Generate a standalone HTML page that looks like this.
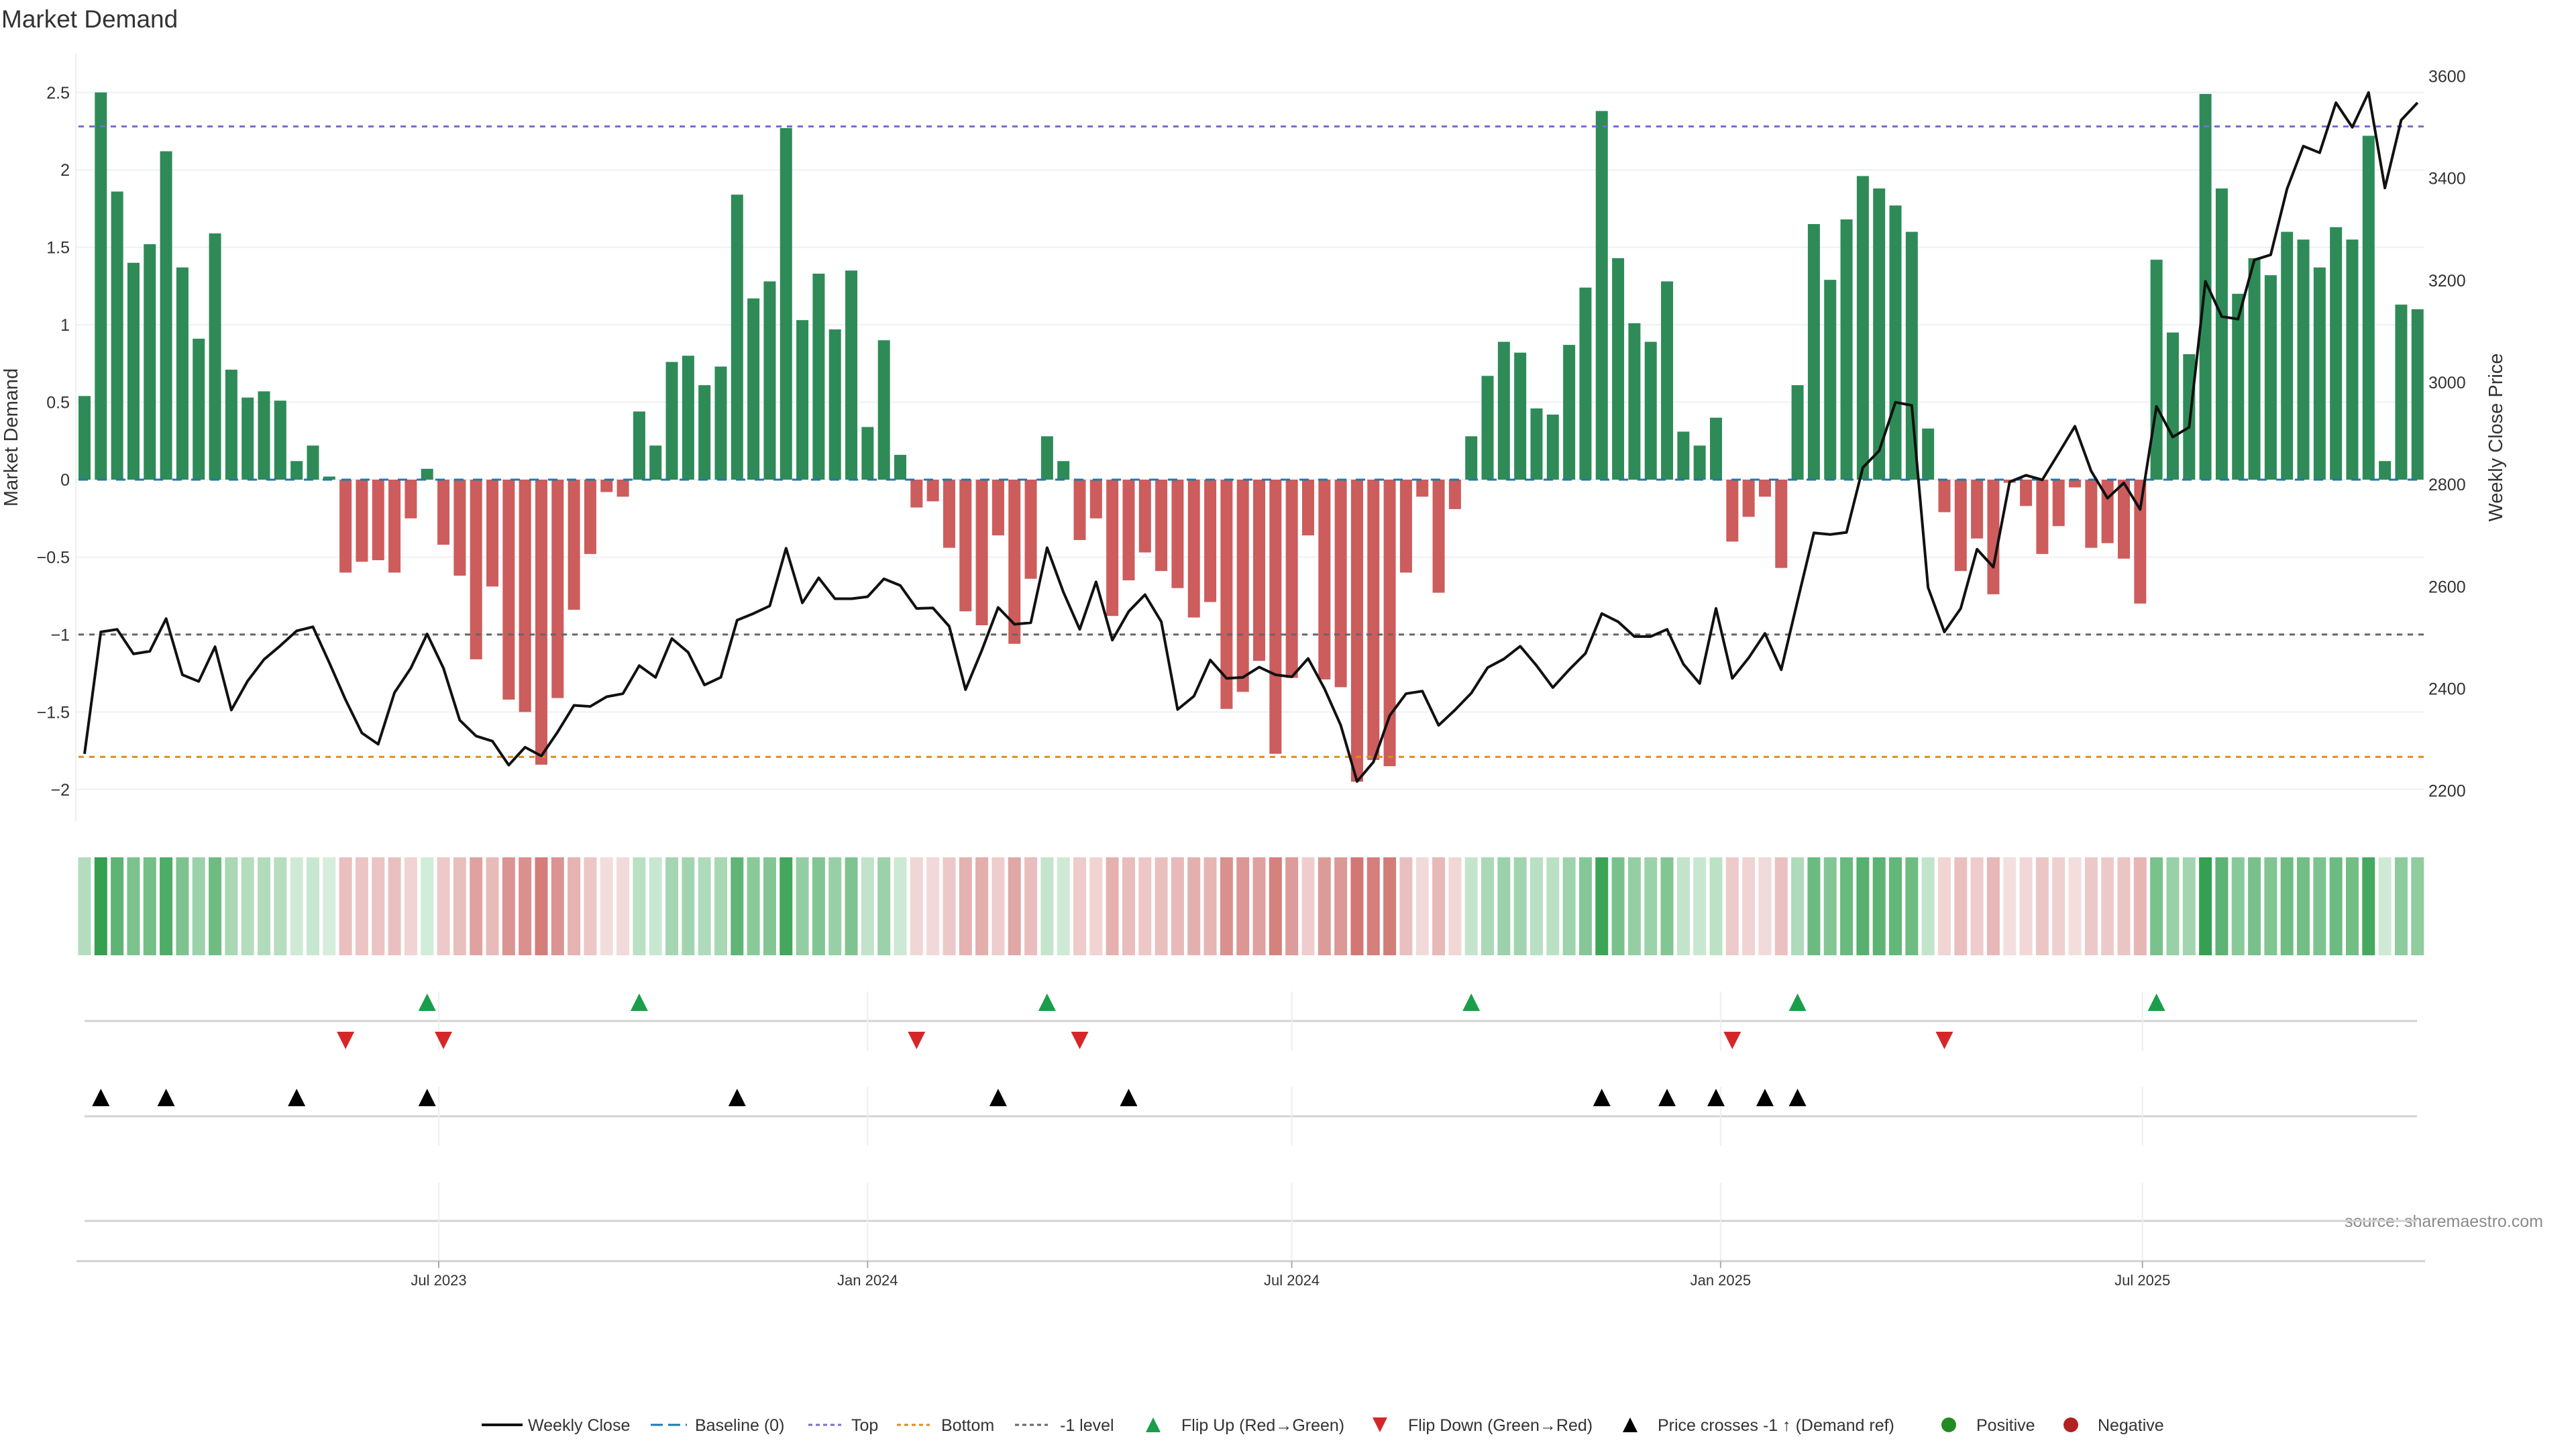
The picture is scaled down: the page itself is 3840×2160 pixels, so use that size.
<!DOCTYPE html>
<html><head><meta charset="utf-8"><style>
html,body{margin:0;padding:0;background:#fff;}
svg{display:block;font-family:"Liberation Sans","DejaVu Sans",sans-serif;}
</style></head><body>
<svg id="chart" width="3840" height="2160" viewBox="0 0 3840 2160" xmlns="http://www.w3.org/2000/svg">
<text x="2" y="41" font-size="37" fill="#333">Market Demand</text>
<text transform="translate(26,652) rotate(-90)" text-anchor="middle" font-size="29" fill="#333">Market Demand</text>
<text transform="translate(3730,652) rotate(-90)" text-anchor="middle" font-size="29" fill="#333">Weekly Close Price</text>
<text x="3791" y="1829" text-anchor="end" font-size="25" fill="#8a8a8a">source: sharemaestro.com</text>
<g id="grid"></g><g id="bars"></g><g id="refs"></g><g id="price"></g><g id="heat"></g><g id="marks"></g><g id="xaxis"></g><g id="legend"></g>
</svg>
<script>
const demand=[0.54,2.5,1.86,1.40,1.52,2.12,1.37,0.91,1.59,0.71,0.53,0.57,0.51,0.12,0.22,0.02,-0.60,-0.53,-0.52,-0.60,-0.25,0.07,-0.42,-0.62,-1.16,-0.69,-1.42,-1.50,-1.84,-1.41,-0.84,-0.48,-0.08,-0.11,0.44,0.22,0.76,0.80,0.61,0.73,1.84,1.17,1.28,2.27,1.03,1.33,0.97,1.35,0.34,0.90,0.16,-0.18,-0.14,-0.44,-0.85,-0.94,-0.36,-1.06,-0.64,0.28,0.12,-0.39,-0.25,-0.88,-0.65,-0.47,-0.59,-0.70,-0.89,-0.79,-1.48,-1.37,-1.17,-1.77,-1.28,-0.36,-1.29,-1.34,-1.95,-1.81,-1.85,-0.60,-0.11,-0.73,-0.19,0.28,0.67,0.89,0.82,0.46,0.42,0.87,1.24,2.38,1.43,1.01,0.89,1.28,0.31,0.22,0.40,-0.40,-0.24,-0.11,-0.57,0.61,1.65,1.29,1.68,1.96,1.88,1.77,1.60,0.33,-0.21,-0.59,-0.38,-0.74,-0.02,-0.17,-0.48,-0.30,-0.05,-0.44,-0.41,-0.51,-0.80,1.42,0.95,0.81,2.49,1.88,1.20,1.43,1.32,1.60,1.55,1.37,1.63,1.55,2.22,0.12,1.13,1.10];
const closes=[2272,2511,2516,2468,2473,2537,2427,2414,2482,2358,2415,2457,2484,2513,2521,2451,2378,2313,2291,2392,2440,2507,2440,2338,2307,2297,2250,2285,2268,2315,2367,2365,2384,2390,2445,2422,2498,2471,2407,2422,2534,2547,2562,2675,2568,2617,2576,2576,2580,2615,2602,2557,2558,2522,2398,2475,2559,2526,2529,2676,2589,2516,2609,2495,2551,2584,2531,2359,2385,2456,2420,2422,2442,2427,2423,2459,2400,2328,2218,2256,2347,2390,2395,2328,2358,2391,2441,2458,2483,2445,2402,2437,2469,2547,2531,2502,2502,2516,2448,2410,2557,2420,2460,2508,2437,2572,2705,2702,2706,2833,2866,2961,2955,2598,2511,2557,2673,2638,2805,2818,2809,2861,2914,2826,2773,2803,2751,2953,2893,2912,3198,3129,3124,3240,3250,3379,3463,3450,3548,3500,3568,3381,3514,3548];
const leftTicks=[2.5,2,1.5,1,0.5,0,-0.5,-1,-1.5,-2];
const rightTicks=[3600,3400,3200,3000,2800,2600,2400,2200];
const refTop=2.28, refBottom=-1.79, refMinus1=-1;
const xTickLabels=["Jul 2023","Jan 2024","Jul 2024","Jan 2025","Jul 2025"];
const xTickDates=["2023-07-01","2024-01-01","2024-07-01","2025-01-01","2025-07-01"];
const NS="http://www.w3.org/2000/svg";
function mk(tag,attrs,parent){const e=document.createElementNS(NS,tag);for(const k in attrs)e.setAttribute(k,attrs[k]);parent.appendChild(e);return e;}
const X0=117,STEP=24.32,BW=18,PL=113,PR=3614;
const y=v=>715-v*230.9;
const y2=p=>113.6+(3600-p)*0.7607;
const xl=i=>X0+i*STEP, xc=i=>X0+i*STEP+BW/2;
const d0=new Date("2023-07-01").getTime();
const xd=s=>654+(new Date(s).getTime()-d0)/(7*864e5)*STEP;
const grid=document.getElementById('grid');
mk('line',{x1:PL,y1:80,x2:PL,y2:1225,stroke:'#eceef2','stroke-width':2},grid);
leftTicks.forEach(t=>{
 const g=mk('line',{x1:PL,y1:y(t),x2:PR,y2:y(t),stroke:'#eef0f3','stroke-width':2},grid);
 
 
 const tx=mk('text',{x:104,y:y(t)+9,'text-anchor':'end','font-size':25,fill:'#333'},grid);
 tx.textContent=String(t).replace('-','−');
 
 
});
rightTicks.forEach(t=>{
 const tx=mk('text',{x:3620,y:y2(t)+9,'font-size':25,fill:'#333'},grid);
 tx.textContent=t;
 
 
});
const bars=document.getElementById('bars');
demand.forEach((v,i)=>{
 const r=mk('rect',{x:xl(i),y:Math.min(y(v),y(0)),width:BW,height:Math.abs(y(v)-y(0)),fill:v>=0?'#2e8b57':'#cd5c5c'},bars);
 
 
});
const refs=document.getElementById('refs');
[[0,'#1f77b4','14 14','baseline-line'],[refTop,'#7a6cc9','8 8','top-line'],[refBottom,'#e08a1e','8 8','bottom-line'],[refMinus1,'#666','8 8','minus1-level-line']].forEach(a=>{
 const l=mk('line',{x1:X0,y1:y(a[0]),x2:PR,y2:y(a[0]),stroke:a[1],'stroke-width':3,'stroke-dasharray':a[2]},refs);
 
 
});
const pr=document.getElementById('price');
const pl=mk('polyline',{points:closes.map((c,i)=>xc(i)+','+y2(c)).join(' '),fill:'none',stroke:'#111','stroke-width':4,'stroke-linejoin':'round'},pr);


const heat=document.getElementById('heat');
function mix(a,b,t){return 'rgb('+a.map((c,k)=>Math.round(c+(b[k]-c)*t)).join(',')+')';}
demand.forEach((v,i)=>{
 const t=Math.min(Math.abs(v)/2.5,1);
 const col=v>=0?mix([214,238,220],[52,160,80],t):mix([244,224,224],[200,90,85],t);
 const r=mk('rect',{x:xl(i)-0.5,y:1278,width:19,height:146,fill:col},heat);
 
 
});
const marks=document.getElementById('marks');
[1522,1664,1820].forEach(yy=>{
 const l=mk('line',{x1:126,y1:yy,x2:3603,y2:yy,stroke:'#d3d3d3','stroke-width':3},marks);
 
 
});
xTickDates.forEach(s=>{
 [[1478,1567],[1620,1708],[1763,1880]].forEach(seg=>{
  const l=mk('line',{x1:xd(s),y1:seg[0],x2:xd(s),y2:seg[1],stroke:'#eeeeee','stroke-width':2},marks);
  
  
 });
});
function tri(cx,cy,up,col,name){
 const h=26,w=13;
 const p=up?`${cx-w},${cy+h/2} ${cx+w},${cy+h/2} ${cx},${cy-h/2}`:`${cx-w},${cy-h/2} ${cx+w},${cy-h/2} ${cx},${cy+h/2}`;
 const e=mk('polygon',{points:p,fill:col},marks);
 
 
}
const crossLevel=(y(refMinus1)-113.6)/-0.7607+3600;
for(let i=1;i<demand.length;i++){
 if(demand[i-1]<0&&demand[i]>=0) tri(xc(i),1494,true,'#1a9e4b','flip-up-marker');
 if(demand[i-1]>=0&&demand[i]<0) tri(xc(i),1551,false,'#d62728','flip-down-marker');
 if(closes[i-1]<crossLevel&&closes[i]>=crossLevel) tri(xc(i),1636,true,'#000','price-cross-marker');
}
const xa=document.getElementById('xaxis');
const al=mk('line',{x1:114,y1:1880,x2:3615,y2:1880,stroke:'#d0d0d0','stroke-width':3},xa);


xTickDates.forEach((s,k)=>{
 mk('line',{x1:xd(s),y1:1880,x2:xd(s),y2:1890,stroke:'#aaa','stroke-width':2},xa);
 const t=mk('text',{x:xd(s),y:1916,'text-anchor':'middle','font-size':22,fill:'#333'},xa);
 t.textContent=xTickLabels[k];
 
 
});
const lg=document.getElementById('legend');
const LY=2124;
function ltext(x,s){const t=mk('text',{x:x,y:LY+9,'font-size':25,fill:'#333'},lg);t.textContent=s;}
function lline(x1,x2,col,dash,w){const l=mk('line',{x1:x1,y1:LY,x2:x2,y2:LY,stroke:col,'stroke-width':w,'stroke-dasharray':dash},lg);}
lline(718,779,'#111','',4);ltext(787,'Weekly Close');
lline(970,1024,'#1f77b4','18 8',3);ltext(1036,'Baseline (0)');
lline(1205,1254,'#7a6cc9','6 5',3);ltext(1269,'Top');
lline(1337,1386,'#e08a1e','6 5',3);ltext(1403,'Bottom');
lline(1513,1562,'#666','6 5',3);ltext(1580,'-1 level');
const lgM=[[1719,'up','#1a9e4b'],[2057,'down','#d62728'],[2430,'up','#000']];
lgM.forEach(m=>{
 const cx=m[0],h=22,w=11,up=m[1]==='up';
 const p=up?`${cx-w},${LY+h/2} ${cx+w},${LY+h/2} ${cx},${LY-h/2}`:`${cx-w},${LY-h/2} ${cx+w},${LY-h/2} ${cx},${LY+h/2}`;
 const e=mk('polygon',{points:p,fill:m[2]},lg);
 
 
});
ltext(1761,'Flip Up (Red→Green)');ltext(2099,'Flip Down (Green→Red)');ltext(2471,'Price crosses -1 ↑ (Demand ref)');
const c1=mk('circle',{cx:2905,cy:LY,r:11,fill:'#228b22'},lg);
ltext(2946,'Positive');
const c2=mk('circle',{cx:3087,cy:LY,r:11,fill:'#b22222'},lg);
ltext(3127,'Negative');
</script>
</body></html>
